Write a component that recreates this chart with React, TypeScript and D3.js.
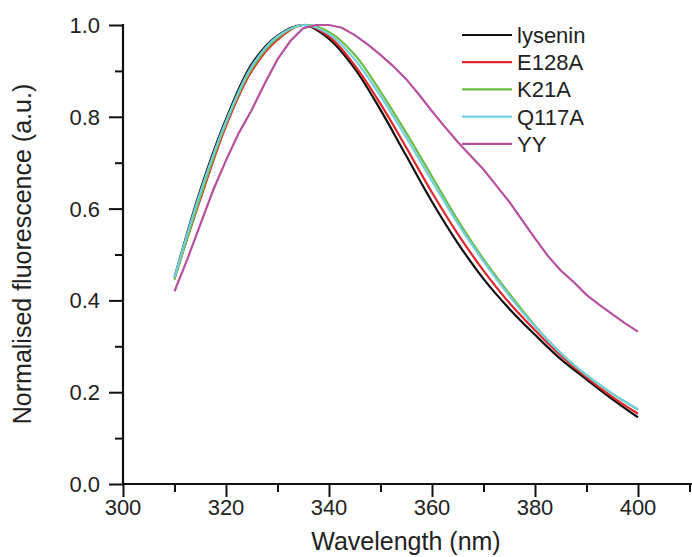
import React, { useEffect, useRef } from 'react';
import * as d3 from 'd3';

// wavelengths (nm) for the smooth spectra
const wavelengths = [310, 315, 320, 325, 330, 335, 340, 345, 350, 355, 360, 365, 370, 375, 380, 385, 390, 395, 400];
const lysenin = [0.45, 0.64, 0.795, 0.915, 0.977, 1.0, 0.97, 0.905, 0.815, 0.715, 0.615, 0.525, 0.447, 0.382, 0.325, 0.272, 0.228, 0.185, 0.145];
const e128a = [0.45, 0.62, 0.78, 0.9, 0.968, 1.0, 0.975, 0.912, 0.828, 0.733, 0.635, 0.545, 0.465, 0.395, 0.335, 0.28, 0.232, 0.19, 0.153];
const k21a = [0.445, 0.625, 0.785, 0.905, 0.972, 1.0, 0.985, 0.935, 0.855, 0.765, 0.67, 0.575, 0.49, 0.415, 0.345, 0.285, 0.237, 0.197, 0.162];
const q117a = [0.45, 0.635, 0.79, 0.91, 0.975, 1.0, 0.98, 0.925, 0.845, 0.755, 0.66, 0.568, 0.485, 0.41, 0.343, 0.285, 0.237, 0.197, 0.163];

// YY is noisier, read at finer steps
const wavelengthsYY = [310, 312.5, 315, 317.5, 320, 322.5, 325, 327.5, 330, 332.5, 335, 337.5, 340, 342.5, 345, 347.5, 350, 352.5, 355, 357.5, 360, 362.5, 365, 367.5, 370, 372.5, 375, 377.5, 380, 382.5, 385, 387.5, 390, 392.5, 395, 397.5, 400];
const yy = [0.42, 0.49, 0.565, 0.64, 0.705, 0.765, 0.815, 0.872, 0.925, 0.965, 0.993, 1.0, 1.0, 0.994, 0.978, 0.958, 0.935, 0.91, 0.882, 0.848, 0.812, 0.778, 0.745, 0.715, 0.685, 0.65, 0.615, 0.575, 0.535, 0.497, 0.465, 0.44, 0.412, 0.39, 0.37, 0.35, 0.332];

const seriesNames = ['lysenin', 'E128A', 'K21A', 'Q117A', 'YY'];
const seriesColors = ['#111111', '#e3262b', '#6cbd45', '#72cfe0', '#b8509f'];

const xTicks = [300, 320, 340, 360, 380, 400];
const yTicks = [0.0, 0.2, 0.4, 0.6, 0.8, 1.0];

const App = () => {
  const svgRef = useRef(null);

  useEffect(() => {
    const width = 692;
    const height = 557;
    const svg = d3.select(svgRef.current);
    svg.selectAll('*').remove();

    const font = '"Liberation Sans", Arial, sans-serif';

    const x = d3.scaleLinear().domain([300, 410]).range([123, 689.5]);
    const y = d3.scaleLinear().domain([0, 1]).range([484, 25]);

    // 곡선
    const line = d3.line<[number, number]>()
      .x(d => x(d[0]))
      .y(d => y(d[1]))
      .curve(d3.curveCatmullRom.alpha(0.5));

    const smooth = [lysenin, e128a, k21a, q117a];
    smooth.forEach((vals, i) => {
      svg.append('path')
        .datum(wavelengths.map((w, j) => [w, vals[j]] as [number, number]))
        .attr('d', line)
        .attr('fill', 'none')
        .attr('stroke', seriesColors[i])
        .attr('stroke-width', 2.2);
    });

    svg.append('path')
      .datum(wavelengthsYY.map((w, j) => [w, yy[j]] as [number, number]))
      .attr('d', d3.line<[number, number]>().x(d => x(d[0])).y(d => y(d[1])))
      .attr('fill', 'none')
      .attr('stroke', seriesColors[4])
      .attr('stroke-width', 2.2);

    // x 축
    const xAxis = svg.append('g').attr('transform', 'translate(0,484)');
    xAxis.call(d3.axisBottom(x).tickValues(d3.range(300, 411, 10)).tickSize(7).tickFormat(() => ''));
    xAxis.call(g => g.select('.domain').remove());
    xAxis.append('line').attr('x1', 122).attr('x2', 692).attr('stroke', '#111').attr('stroke-width', 2.2);
    xAxis.selectAll('.tick line').attr('stroke', '#111').attr('stroke-width', 2)
      .attr('y2', (d: any) => (xTicks.includes(d) ? 13 : 8));
    xTicks.forEach(t => {
      xAxis.append('text')
        .attr('x', x(t))
        .attr('y', 31)
        .attr('text-anchor', 'middle')
        .style('font-family', font)
        .style('font-size', '22px')
        .style('fill', '#222')
        .text(t);
    });

    // y 축
    const yAxis = svg.append('g').attr('transform', 'translate(123,0)');
    yAxis.call(d3.axisLeft(y).tickValues(d3.range(0, 1.01, 0.1)).tickSize(8).tickFormat(() => ''));
    yAxis.call(g => g.select('.domain').remove());
    yAxis.append('line').attr('y1', 24).attr('y2', 485).attr('stroke', '#111').attr('stroke-width', 2.2);
    yAxis.selectAll('.tick line').attr('stroke', '#111').attr('stroke-width', 2)
      .attr('x2', (d: any) => (yTicks.some(t => Math.abs(t - d) < 1e-6) ? -14 : -8));
    yTicks.forEach(t => {
      yAxis.append('text')
        .attr('x', -23)
        .attr('y', y(t))
        .attr('dy', '0.36em')
        .attr('text-anchor', 'end')
        .style('font-family', font)
        .style('font-size', '22px')
        .style('fill', '#222')
        .text(t.toFixed(1));
    });

    // 축 제목
    svg.append('text')
      .attr('x', 406)
      .attr('y', 550)
      .attr('text-anchor', 'middle')
      .style('font-family', font)
      .style('font-size', '25px')
      .style('fill', '#222')
      .text('Wavelength (nm)');

    svg.append('text')
      .attr('transform', `translate(31,254) rotate(-90)`)
      .attr('text-anchor', 'middle')
      .style('font-family', font)
      .style('font-size', '25px')
      .style('fill', '#222')
      .text('Normalised fluorescence (a.u.)');

    // 범례
    const legend = svg.append('g').attr('transform', 'translate(462,35)');
    seriesNames.forEach((name, i) => {
      legend.append('line')
        .attr('x1', 0).attr('x2', 50)
        .attr('y1', i * 27.2).attr('y2', i * 27.2)
        .attr('stroke', seriesColors[i])
        .attr('stroke-width', 2.2);
      legend.append('text')
        .attr('x', 55)
        .attr('y', i * 27.2)
        .attr('dy', '0.36em')
        .style('font-family', font)
        .style('font-size', '22px')
        .style('fill', '#222')
        .text(name);
    });
    svg.attr('width', width).attr('height', height);
  }, []);

  return (
    <svg
      ref={svgRef}
      width={692}
      height={557}
      style={{ position: 'absolute', left: 0, top: 0, background: '#fff' }}
    />
  );
};

export default App;
